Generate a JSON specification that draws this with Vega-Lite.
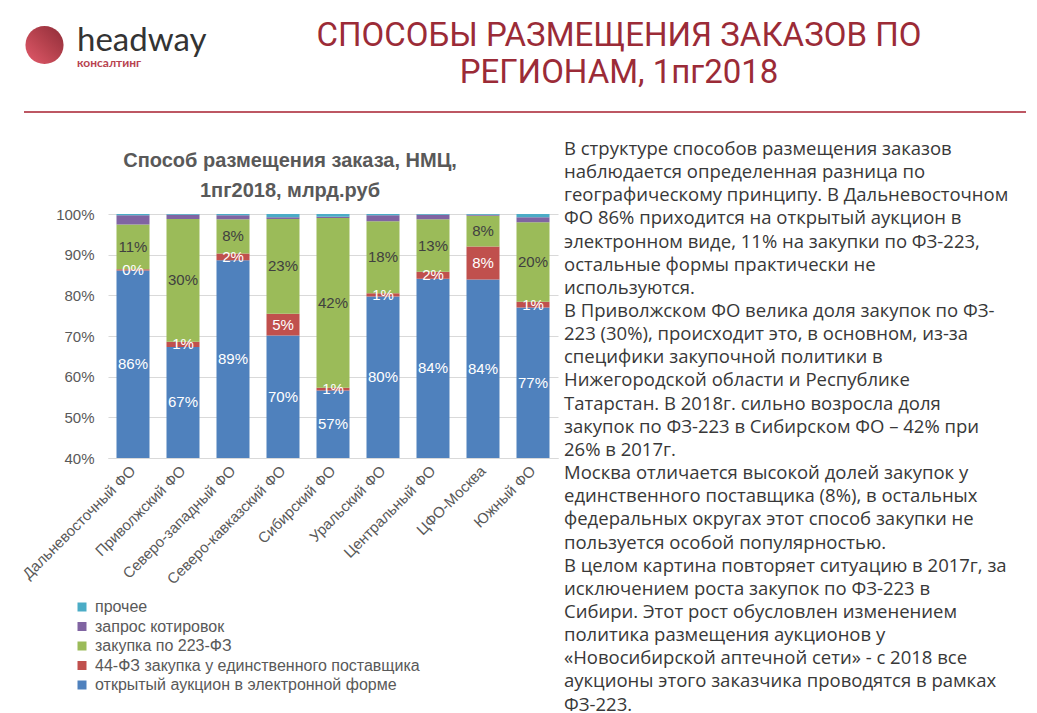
{
  "$schema": "https://vega.github.io/schema/vega-lite/v6.json",
  "background": "white",
  "padding": {"left": 18, "top": 20, "right": 0, "bottom": 0},
  "spacing": 0,
  "config": {
    "view": {"stroke": null},
    "font": "Liberation Sans"
  },
  "vconcat": [
    {
      "spacing": 6,
      "hconcat": [
        {
          "width": 53,
          "height": 44,
          "data": {"values": [{}]},
          "mark": {
            "type": "point",
            "filled": true,
            "size": 1452,
            "opacity": 1,
            "strokeWidth": 0,
            "color": {
              "gradient": "linear",
              "x1": 0, "y1": 1, "x2": 1, "y2": 0,
              "stops": [
                {"offset": 0, "color": "#e35a6b"},
                {"offset": 0.5, "color": "#b8434f"},
                {"offset": 1, "color": "#8e2c38"}
              ]
            }
          },
          "encoding": {}
        },
        {
          "width": 135,
          "height": 1,
          "title": {
            "text": "headway",
            "subtitle": "консалтинг",
            "orient": "bottom",
            "anchor": "start",
            "frame": "group",
            "font": "Lato",
            "fontSize": 33,
            "fontWeight": "normal",
            "color": "#333333",
            "subtitleFont": "Lato",
            "subtitleFontSize": 12,
            "subtitleFontWeight": "bold",
            "subtitleColor": "#b8434f",
            "subtitlePadding": 0,
            "offset": 1
          },
          "mark": {"type": "rule", "opacity": 0},
          "encoding": {}
        },
        {
          "width": 802,
          "height": 88,
          "title": {
            "text": ["СПОСОБЫ РАЗМЕЩЕНИЯ ЗАКАЗОВ ПО", "РЕГИОНАМ, 1пг2018"],
            "orient": "bottom",
            "font": "Roboto",
            "fontSize": 33,
            "fontWeight": "normal",
            "color": "#9b2b37",
            "lineHeight": 37,
            "anchor": "middle",
            "frame": "group",
            "offset": -91
          },
          "mark": {"type": "rule", "opacity": 0},
          "encoding": {}
        }
      ]
    },
    {
      "spacing": 5,
      "hconcat": [
        {
          "width": 1,
          "height": 2,
          "mark": {"type": "rule", "opacity": 0},
          "encoding": {}
        },
        {
          "width": 1002,
          "height": 2,
          "view": {"fill": "#bd5763", "stroke": null},
          "mark": {"type": "rule", "opacity": 0},
          "encoding": {}
        }
      ]
    },
    {
      "spacing": 0,
      "hconcat": [
        {
          "width": 1,
          "height": 1,
          "mark": {"type": "rule", "opacity": 0},
          "encoding": {}
        },
        {
          "width": 450,
          "height": 244,
          "title": {
            "text": " ",
            "fontSize": 10,
            "subtitle": ["Способ размещения заказа, НМЦ,", "1пг2018, млрд.руб"],
            "subtitleFont": "Liberation Sans",
            "subtitleFontSize": 20,
            "subtitleFontWeight": "bold",
            "subtitleColor": "#595959",
            "subtitleLineHeight": 30,
            "subtitlePadding": 28,
            "anchor": "middle",
            "frame": "group",
            "dx": -43,
            "offset": 6
          },
          "data": {
            "values": [
              {"r": "Дальневосточный ФО", "m": "открытый аукцион в электронной форме", "k": 1, "v": 0.861},
              {"r": "Дальневосточный ФО", "m": "44-ФЗ закупка у единственного поставщика", "k": 2, "v": 0.003},
              {"r": "Дальневосточный ФО", "m": "закупка по 223-ФЗ", "k": 3, "v": 0.110},
              {"r": "Дальневосточный ФО", "m": "запрос котировок", "k": 4, "v": 0.023},
              {"r": "Дальневосточный ФО", "m": "прочее", "k": 5, "v": 0.003},
              {"r": "Приволжский ФО", "m": "открытый аукцион в электронной форме", "k": 1, "v": 0.673},
              {"r": "Приволжский ФО", "m": "44-ФЗ закупка у единственного поставщика", "k": 2, "v": 0.013},
              {"r": "Приволжский ФО", "m": "закупка по 223-ФЗ", "k": 3, "v": 0.302},
              {"r": "Приволжский ФО", "m": "запрос котировок", "k": 4, "v": 0.010},
              {"r": "Приволжский ФО", "m": "прочее", "k": 5, "v": 0.002},
              {"r": "Северо-западный ФО", "m": "открытый аукцион в электронной форме", "k": 1, "v": 0.886},
              {"r": "Северо-западный ФО", "m": "44-ФЗ закупка у единственного поставщика", "k": 2, "v": 0.017},
              {"r": "Северо-западный ФО", "m": "закупка по 223-ФЗ", "k": 3, "v": 0.084},
              {"r": "Северо-западный ФО", "m": "запрос котировок", "k": 4, "v": 0.010},
              {"r": "Северо-западный ФО", "m": "прочее", "k": 5, "v": 0.003},
              {"r": "Северо-кавказский ФО", "m": "открытый аукцион в электронной форме", "k": 1, "v": 0.701},
              {"r": "Северо-кавказский ФО", "m": "44-ФЗ закупка у единственного поставщика", "k": 2, "v": 0.054},
              {"r": "Северо-кавказский ФО", "m": "закупка по 223-ФЗ", "k": 3, "v": 0.233},
              {"r": "Северо-кавказский ФО", "m": "запрос котировок", "k": 4, "v": 0.004},
              {"r": "Северо-кавказский ФО", "m": "прочее", "k": 5, "v": 0.008},
              {"r": "Сибирский ФО", "m": "открытый аукцион в электронной форме", "k": 1, "v": 0.566},
              {"r": "Сибирский ФО", "m": "44-ФЗ закупка у единственного поставщика", "k": 2, "v": 0.007},
              {"r": "Сибирский ФО", "m": "закупка по 223-ФЗ", "k": 3, "v": 0.417},
              {"r": "Сибирский ФО", "m": "запрос котировок", "k": 4, "v": 0.003},
              {"r": "Сибирский ФО", "m": "прочее", "k": 5, "v": 0.007},
              {"r": "Уральский ФО", "m": "открытый аукцион в электронной форме", "k": 1, "v": 0.797},
              {"r": "Уральский ФО", "m": "44-ФЗ закупка у единственного поставщика", "k": 2, "v": 0.008},
              {"r": "Уральский ФО", "m": "закупка по 223-ФЗ", "k": 3, "v": 0.177},
              {"r": "Уральский ФО", "m": "запрос котировок", "k": 4, "v": 0.015},
              {"r": "Уральский ФО", "m": "прочее", "k": 5, "v": 0.003},
              {"r": "Центральный ФО", "m": "открытый аукцион в электронной форме", "k": 1, "v": 0.841},
              {"r": "Центральный ФО", "m": "44-ФЗ закупка у единственного поставщика", "k": 2, "v": 0.017},
              {"r": "Центральный ФО", "m": "закупка по 223-ФЗ", "k": 3, "v": 0.129},
              {"r": "Центральный ФО", "m": "запрос котировок", "k": 4, "v": 0.011},
              {"r": "Центральный ФО", "m": "прочее", "k": 5, "v": 0.002},
              {"r": "ЦФО-Москва", "m": "открытый аукцион в электронной форме", "k": 1, "v": 0.839},
              {"r": "ЦФО-Москва", "m": "44-ФЗ закупка у единственного поставщика", "k": 2, "v": 0.081},
              {"r": "ЦФО-Москва", "m": "закупка по 223-ФЗ", "k": 3, "v": 0.076},
              {"r": "ЦФО-Москва", "m": "запрос котировок", "k": 4, "v": 0.002},
              {"r": "ЦФО-Москва", "m": "прочее", "k": 5, "v": 0.002},
              {"r": "Южный ФО", "m": "открытый аукцион в электронной форме", "k": 1, "v": 0.770},
              {"r": "Южный ФО", "m": "44-ФЗ закупка у единственного поставщика", "k": 2, "v": 0.014},
              {"r": "Южный ФО", "m": "закупка по 223-ФЗ", "k": 3, "v": 0.196},
              {"r": "Южный ФО", "m": "запрос котировок", "k": 4, "v": 0.012},
              {"r": "Южный ФО", "m": "прочее", "k": 5, "v": 0.008}
            ]
          },
          "encoding": {
            "x": {
              "field": "r",
              "type": "nominal",
              "sort": null,
              "scale": {"paddingInner": 0.34, "paddingOuter": 0.17},
              "axis": {
                "title": null,
                "labelAngle": -45,
                "labelAlign": "right",
                "labelBaseline": "middle",
                "labelFontSize": 15,
                "labelColor": "#595959",
                "ticks": false,
                "domainColor": "#d9d9d9",
                "labelPadding": 10
              }
            }
          },
          "layer": [
            {
              "mark": {"type": "bar", "clip": true},
              "encoding": {
                "y": {
                  "field": "v",
                  "type": "quantitative",
                  "stack": "zero",
                  "scale": {"domain": [0.4, 1], "nice": false, "zero": false},
                  "axis": {
                    "title": null,
                    "values": [0.4, 0.5, 0.6, 0.7, 0.8, 0.9, 1.0],
                    "format": ".0%",
                    "grid": true,
                    "gridColor": "#d9d9d9",
                    "domain": false,
                    "ticks": false,
                    "labelFontSize": 15,
                    "labelColor": "#595959",
                    "labelPadding": 14
                  }
                },
                "order": {"field": "k", "type": "quantitative", "sort": "ascending"},
                "color": {
                  "field": "m",
                  "type": "nominal",
                  "scale": {
                    "domain": ["открытый аукцион в электронной форме", "44-ФЗ закупка у единственного поставщика", "закупка по 223-ФЗ", "запрос котировок", "прочее"],
                    "range": ["#4f81bd", "#c0504d", "#9bbb59", "#8064a2", "#4bacc6"]
                  },
                  "legend": {
                    "orient": "none",
                    "legendX": -34,
                    "legendY": 385,
                    "title": null,
                    "symbolType": "square",
                    "symbolSize": 81,
                    "symbolStrokeWidth": 0,
                    "labelFontSize": 16,
                    "labelColor": "#595959",
                    "labelLimit": 500,
                    "rowPadding": 3.5,
                    "padding": 0,
                    "labelOffset": 5,
                    "values": ["прочее", "запрос котировок", "закупка по 223-ФЗ", "44-ФЗ закупка у единственного поставщика", "открытый аукцион в электронной форме"]
                  }
                }
              }
            },
            {
              "mark": {"type": "text", "fontSize": 15},
              "encoding": {
                "y": {
                  "field": "v",
                  "type": "quantitative",
                  "stack": "zero",
                  "bandPosition": 0.5,
                  "scale": {"domain": [0.4, 1], "nice": false, "zero": false},
                  "axis": null
                },
                "order": {"field": "k", "type": "quantitative", "sort": "ascending"},
                "color": {
                  "field": "m",
                  "type": "nominal",
                  "scale": {
                    "domain": ["открытый аукцион в электронной форме", "44-ФЗ закупка у единственного поставщика", "закупка по 223-ФЗ", "запрос котировок", "прочее"],
                    "range": ["#ffffff", "#ffffff", "#404040", "#ffffff", "#ffffff"]
                  },
                  "legend": null
                },
                "opacity": {
                  "condition": {"test": "datum.m === '44-ФЗ закупка у единственного поставщика' || datum.m === 'закупка по 223-ФЗ'", "value": 1},
                  "value": 0
                },
                "text": {"field": "v", "type": "quantitative", "format": ".0%"}
              }
            },
            {
              "transform": [{"filter": {"field": "m", "equal": "открытый аукцион в электронной форме"}}],
              "mark": {"type": "text", "fontSize": 15, "color": "#ffffff"},
              "encoding": {
                "y": {
                  "field": "v",
                  "type": "quantitative",
                  "stack": "zero",
                  "bandPosition": 0.5,
                  "scale": {"domain": [0.2, 0.8], "nice": false, "zero": false},
                  "axis": null
                },
                "detail": {"field": "m", "type": "nominal"},
                "text": {"field": "v", "type": "quantitative", "format": ".0%"}
              }
            }
          ],
          "resolve": {"scale": {"y": "independent", "color": "independent"}}
        },
        {
          "width": 460,
          "height": 0,
          "title": {
            "text": [
              "В структуре способов размещения заказов",
              "наблюдается определенная разница по",
              "географическому принципу. В Дальневосточном",
              "ФО 86% приходится на открытый аукцион в",
              "электронном виде, 11% на закупки по ФЗ-223,",
              "остальные формы практически не",
              "используются.",
              "В Приволжском ФО велика доля закупок по ФЗ-",
              "223 (30%), происходит это, в основном, из-за",
              "специфики закупочной политики в",
              "Нижегородской области и Республике",
              "Татарстан. В 2018г. сильно возросла доля",
              "закупок по ФЗ-223 в Сибирском ФО – 42% при",
              "26% в 2017г.",
              "Москва отличается высокой долей закупок у",
              "единственного поставщика (8%), в остальных",
              "федеральных округах этот способ закупки не",
              "пользуется особой популярностью.",
              "В целом картина повторяет ситуацию в 2017г, за",
              "исключением роста закупок по ФЗ-223 в",
              "Сибири. Этот рост обусловлен изменением",
              "политика размещения аукционов у",
              "«Новосибирской аптечной сети» - с 2018 все",
              "аукционы этого заказчика проводятся в рамках",
              "ФЗ-223."
            ],
            "orient": "bottom",
            "font": "Open Sans",
            "fontSize": 18.5,
            "fontWeight": "normal",
            "color": "#383838",
            "lineHeight": 23.15,
            "anchor": "start",
            "frame": "group",
            "dx": 6,
            "offset": -94
          },
          "mark": {"type": "rule", "opacity": 0},
          "encoding": {}
        }
      ]
    }
  ]
}
